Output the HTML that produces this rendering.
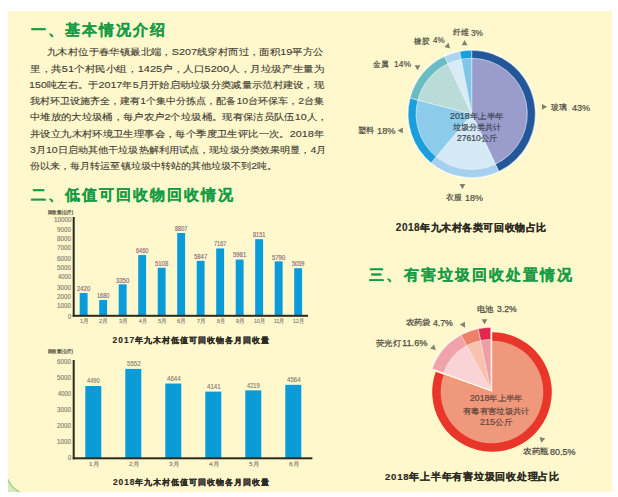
<!DOCTYPE html><html><head><meta charset="utf-8"><style>
html,body{margin:0;padding:0;background:#fff;width:618px;height:497px;overflow:hidden}
#bg{position:absolute;left:8px;top:11px;width:604px;height:481px;background:#fff8cd}
svg{position:absolute;left:0;top:0}
.t{position:absolute;white-space:nowrap;font-family:'Liberation Sans', sans-serif;line-height:1;transform-origin:0 50%}
</style></head><body>
<div id="bg"></div>
<svg width="618" height="497" viewBox="0 0 618 497"><path d="M8,479 Q11.5,488 20,492 L8,492 Z" fill="#d6ebbd"/><path d="M8,479.5 Q11.5,488 19.5,492" fill="none" stroke="#a3cf8c" stroke-width="1.4"/><rect x="78.90" y="292.25" width="9.50" height="23.55" fill="#f2fae4"/><rect x="79.70" y="293.05" width="7.90" height="22.75" fill="#0b9bd6"/><rect x="98.40" y="299.21" width="9.50" height="16.59" fill="#f2fae4"/><rect x="99.20" y="300.01" width="7.90" height="15.79" fill="#0b9bd6"/><rect x="117.90" y="283.51" width="9.50" height="32.29" fill="#f2fae4"/><rect x="118.70" y="284.31" width="7.90" height="31.49" fill="#0b9bd6"/><rect x="137.40" y="254.28" width="9.50" height="61.52" fill="#f2fae4"/><rect x="138.20" y="255.08" width="7.90" height="60.72" fill="#0b9bd6"/><rect x="156.90" y="266.98" width="9.50" height="48.82" fill="#f2fae4"/><rect x="157.70" y="267.78" width="7.90" height="48.02" fill="#0b9bd6"/><rect x="176.40" y="232.21" width="9.50" height="83.59" fill="#f2fae4"/><rect x="177.20" y="233.01" width="7.90" height="82.79" fill="#0b9bd6"/><rect x="195.90" y="260.04" width="9.50" height="55.76" fill="#f2fae4"/><rect x="196.70" y="260.84" width="7.90" height="54.96" fill="#0b9bd6"/><rect x="215.40" y="247.63" width="9.50" height="68.17" fill="#f2fae4"/><rect x="216.20" y="248.43" width="7.90" height="67.37" fill="#0b9bd6"/><rect x="234.90" y="258.78" width="9.50" height="57.02" fill="#f2fae4"/><rect x="235.70" y="259.58" width="7.90" height="56.22" fill="#0b9bd6"/><rect x="254.40" y="238.38" width="9.50" height="77.42" fill="#f2fae4"/><rect x="255.20" y="239.18" width="7.90" height="76.62" fill="#0b9bd6"/><rect x="273.90" y="260.57" width="9.50" height="55.23" fill="#f2fae4"/><rect x="274.70" y="261.37" width="7.90" height="54.43" fill="#0b9bd6"/><rect x="293.40" y="267.45" width="9.50" height="48.35" fill="#f2fae4"/><rect x="294.20" y="268.25" width="7.90" height="47.55" fill="#0b9bd6"/><rect x="72.70" y="217.00" width="2.00" height="99.80" fill="#2e2a1e"/><rect x="72.70" y="314.80" width="235.30" height="2.00" fill="#2e2a1e"/><rect x="84.50" y="385.21" width="17.60" height="73.09" fill="#f2fae4"/><rect x="85.30" y="386.01" width="16.00" height="72.29" fill="#0b9bd6"/><rect x="124.50" y="368.11" width="17.60" height="90.19" fill="#f2fae4"/><rect x="125.30" y="368.91" width="16.00" height="89.39" fill="#0b9bd6"/><rect x="164.50" y="382.73" width="17.60" height="75.57" fill="#f2fae4"/><rect x="165.30" y="383.53" width="16.00" height="74.77" fill="#0b9bd6"/><rect x="204.50" y="390.83" width="17.60" height="67.47" fill="#f2fae4"/><rect x="205.30" y="391.63" width="16.00" height="66.67" fill="#0b9bd6"/><rect x="244.50" y="389.57" width="17.60" height="68.73" fill="#f2fae4"/><rect x="245.30" y="390.37" width="16.00" height="67.93" fill="#0b9bd6"/><rect x="284.50" y="384.02" width="17.60" height="74.28" fill="#f2fae4"/><rect x="285.30" y="384.82" width="16.00" height="73.48" fill="#0b9bd6"/><rect x="72.70" y="360.00" width="2.00" height="99.30" fill="#2e2a1e"/><rect x="72.70" y="457.30" width="239.70" height="2.00" fill="#2e2a1e"/><circle cx="471.7" cy="113.9" r="64.8" fill="#fefef4"/><path d="M471.70,113.90 L471.70,50.30 A63.6,63.6 0 0 1 498.78,171.45 Z" fill="#24579a" stroke="#e8f3f8" stroke-width="0.5" stroke-linejoin="miter"/><path d="M471.70,113.90 L498.78,171.45 A63.6,63.6 0 0 1 431.16,162.90 Z" fill="#a5d0ee" stroke="#e8f3f8" stroke-width="0.5" stroke-linejoin="miter"/><path d="M471.70,113.90 L431.16,162.90 A63.6,63.6 0 0 1 410.10,98.08 Z" fill="#1b9fdc" stroke="#e8f3f8" stroke-width="0.5" stroke-linejoin="miter"/><path d="M471.70,113.90 L410.10,98.08 A63.6,63.6 0 0 1 444.62,56.35 Z" fill="#69bcc1" stroke="#e8f3f8" stroke-width="0.5" stroke-linejoin="miter"/><path d="M471.70,113.90 L444.62,56.35 A63.6,63.6 0 0 1 459.78,51.43 Z" fill="#a9d5f0" stroke="#e8f3f8" stroke-width="0.5" stroke-linejoin="miter"/><path d="M471.70,113.90 L459.78,51.43 A63.6,63.6 0 0 1 471.70,50.30 Z" fill="#1a9edb" stroke="#e8f3f8" stroke-width="0.5" stroke-linejoin="miter"/><path d="M471.70,113.90 L471.70,58.30 A55.6,55.6 0 0 1 495.37,164.21 Z" fill="#9a9dcc" stroke="#e8f3f8" stroke-width="0.6" stroke-linejoin="miter"/><path d="M471.70,113.90 L495.37,164.21 A55.6,55.6 0 0 1 436.26,156.74 Z" fill="#d5e9f6" stroke="#e8f3f8" stroke-width="0.6" stroke-linejoin="miter"/><path d="M471.70,113.90 L436.26,156.74 A55.6,55.6 0 0 1 417.85,100.07 Z" fill="#8dcbea" stroke="#e8f3f8" stroke-width="0.6" stroke-linejoin="miter"/><path d="M471.70,113.90 L417.85,100.07 A55.6,55.6 0 0 1 448.03,63.59 Z" fill="#badcd8" stroke="#e8f3f8" stroke-width="0.6" stroke-linejoin="miter"/><path d="M471.70,113.90 L448.03,63.59 A55.6,55.6 0 0 1 461.28,59.28 Z" fill="#d7ecf6" stroke="#e8f3f8" stroke-width="0.6" stroke-linejoin="miter"/><path d="M471.70,113.90 L461.28,59.28 A55.6,55.6 0 0 1 471.70,58.30 Z" fill="#80c6e8" stroke="#e8f3f8" stroke-width="0.6" stroke-linejoin="miter"/><path d="M464.60,39.94 L467.50,45.14 L461.70,45.14 Z" fill="#807f72"/><path d="M450.12,48.52 L444.39,46.90 L448.50,42.79 Z" fill="#807f72"/><path d="M417.50,70.36 L414.60,65.16 L420.40,65.16 Z" fill="#807f72"/><path d="M547.16,106.80 L541.96,109.70 L541.96,103.90 Z" fill="#807f72"/><path d="M397.64,130.50 L402.84,127.60 L402.84,133.40 Z" fill="#807f72"/><path d="M462.40,189.16 L459.50,183.96 L465.30,183.96 Z" fill="#807f72"/><path d="M492.00,392.00 L492.00,332.20 A59.8,59.8 0 1 1 435.74,371.74 Z" fill="#e9362a"/><path d="M492.00,392.00 L492.00,340.70 A51.3,51.3 0 1 1 443.73,374.62 Z" fill="#f0987c"/><path d="M490.70,389.70 L431.61,368.43 A62.800000000000004,62.800000000000004 0 0 1 490.70,326.90 Z" fill="#fffbe6" stroke="#fffbe6" stroke-width="3.0" stroke-linejoin="miter"/><path d="M490.70,389.70 L432.18,368.63 A62.2,62.2 0 0 1 461.08,335.01 Z" fill="#f0a3aa" stroke="#fde8e0" stroke-width="0.5" stroke-linejoin="miter"/><path d="M490.70,389.70 L461.08,335.01 A62.2,62.2 0 0 1 478.28,328.75 Z" fill="#ee8067" stroke="#fde8e0" stroke-width="0.5" stroke-linejoin="miter"/><path d="M490.70,389.70 L478.28,328.75 A62.2,62.2 0 0 1 490.70,327.50 Z" fill="#e0284f" stroke="#fde8e0" stroke-width="0.5" stroke-linejoin="miter"/><path d="M490.70,389.70 L443.47,372.70 A50.2,50.2 0 0 1 466.79,345.56 Z" fill="#f9d3d6" stroke="#fde8e0" stroke-width="0.5" stroke-linejoin="miter"/><path d="M490.70,389.70 L466.79,345.56 A50.2,50.2 0 0 1 480.67,340.51 Z" fill="#f7c2ae" stroke="#fde8e0" stroke-width="0.5" stroke-linejoin="miter"/><path d="M490.70,389.70 L480.67,340.51 A50.2,50.2 0 0 1 490.70,339.50 Z" fill="#ee9fa6" stroke="#fde8e0" stroke-width="0.5" stroke-linejoin="miter"/><path d="M484.50,324.36 L481.60,319.16 L487.40,319.16 Z" fill="#807f72"/><path d="M465.03,327.68 L459.92,324.62 L464.94,321.72 Z" fill="#807f72"/><path d="M435.82,350.22 L430.09,348.60 L434.20,344.49 Z" fill="#807f72"/><path d="M539.58,436.98 L545.31,438.60 L541.20,442.71 Z" fill="#807f72"/></svg>

<div class="t" id="t0" style="left:31.19px;top:21.89px;font-size:15px;color:#179c45;font-weight:bold;letter-spacing:1.914px;-webkit-text-stroke:0.2px #179c45">一、基本情况介绍</div>
<div class="t" id="t1" style="left:30.79px;top:187.10px;font-size:15px;color:#179c45;font-weight:bold;letter-spacing:2.064px;-webkit-text-stroke:0.2px #179c45">二、低值可回收物回收情况</div>
<div class="t" id="t2" style="left:369.39px;top:266.50px;font-size:15px;color:#179c45;font-weight:bold;letter-spacing:2.100px;-webkit-text-stroke:0.2px #179c45">三、有害垃圾回收处置情况</div>
<div class="t" id="t3" style="left:47.42px;top:47.09px;font-size:9.4px;color:#3f3d32;font-weight:normal;transform:scaleX(1.1554);-webkit-text-stroke:0.12px #3f3d32">九木村位于春华镇最北端，S207线穿村而过，面积19平方公</div>
<div class="t" id="t4" style="left:30.42px;top:63.70px;font-size:9.4px;color:#3f3d32;font-weight:normal;transform:scaleX(1.1772);-webkit-text-stroke:0.12px #3f3d32">里，共51个村民小组，1425户，人口5200人，月垃圾产生量为</div>
<div class="t" id="t5" style="left:29.27px;top:80.30px;font-size:9.4px;color:#3f3d32;font-weight:normal;transform:scaleX(1.1451);-webkit-text-stroke:0.12px #3f3d32">150吨左右。于2017年5月开始启动垃圾分类减量示范村建设，现</div>
<div class="t" id="t6" style="left:30.41px;top:95.89px;font-size:9.4px;color:#3f3d32;font-weight:normal;transform:scaleX(1.1148);-webkit-text-stroke:0.12px #3f3d32">我村环卫设施齐全，建有1个集中分拣点，配备10台环保车，2台集</div>
<div class="t" id="t7" style="left:30.42px;top:112.49px;font-size:9.4px;color:#3f3d32;font-weight:normal;transform:scaleX(1.1496);-webkit-text-stroke:0.12px #3f3d32">中堆放的大垃圾桶，每户农户2个垃圾桶。现有保洁员队伍10人，</div>
<div class="t" id="t8" style="left:30.42px;top:129.09px;font-size:9.4px;color:#3f3d32;font-weight:normal;transform:scaleX(1.1541);-webkit-text-stroke:0.12px #3f3d32">并设立九木村环境卫生理事会，每个季度卫生评比一次。2018年</div>
<div class="t" id="t9" style="left:30.41px;top:144.70px;font-size:9.4px;color:#3f3d32;font-weight:normal;transform:scaleX(1.1233);-webkit-text-stroke:0.12px #3f3d32">3月10日启动其他干垃圾热解利用试点，现垃圾分类效果明显，4月</div>
<div class="t" id="t10" style="left:30.41px;top:161.30px;font-size:9.4px;color:#3f3d32;font-weight:normal;transform:scaleX(1.1177);-webkit-text-stroke:0.12px #3f3d32">份以来，每月转运至镇垃圾中转站的其他垃圾不到2吨。</div>
<div class="t" id="t11" style="left:68.00px;top:313.69px;font-size:6.8px;color:#858070;font-weight:normal;transform:scaleX(0.8500);-webkit-text-stroke:0.15px #858070">0</div>
<div class="t" id="t12" style="left:57.23px;top:303.37px;font-size:6.8px;color:#858070;font-weight:normal;transform:scaleX(0.9200);-webkit-text-stroke:0.15px #858070">1000</div>
<div class="t" id="t13" style="left:57.23px;top:294.06px;font-size:6.8px;color:#858070;font-weight:normal;transform:scaleX(0.9200);-webkit-text-stroke:0.15px #858070">2000</div>
<div class="t" id="t14" style="left:57.23px;top:284.73px;font-size:6.8px;color:#858070;font-weight:normal;transform:scaleX(0.9200);-webkit-text-stroke:0.15px #858070">3000</div>
<div class="t" id="t15" style="left:58.11px;top:274.41px;font-size:6.8px;color:#858070;font-weight:normal;transform:scaleX(0.8625);-webkit-text-stroke:0.15px #858070">4000</div>
<div class="t" id="t16" style="left:57.23px;top:265.09px;font-size:6.8px;color:#858070;font-weight:normal;transform:scaleX(0.9200);-webkit-text-stroke:0.15px #858070">5000</div>
<div class="t" id="t17" style="left:57.23px;top:255.78px;font-size:6.8px;color:#858070;font-weight:normal;transform:scaleX(0.9200);-webkit-text-stroke:0.15px #858070">6000</div>
<div class="t" id="t18" style="left:57.23px;top:245.45px;font-size:6.8px;color:#858070;font-weight:normal;transform:scaleX(0.9200);-webkit-text-stroke:0.15px #858070">7000</div>
<div class="t" id="t19" style="left:57.23px;top:236.13px;font-size:6.8px;color:#858070;font-weight:normal;transform:scaleX(0.9200);-webkit-text-stroke:0.15px #858070">8000</div>
<div class="t" id="t20" style="left:57.23px;top:226.81px;font-size:6.8px;color:#858070;font-weight:normal;transform:scaleX(0.9200);-webkit-text-stroke:0.15px #858070">9000</div>
<div class="t" id="t21" style="left:53.61px;top:216.50px;font-size:6.8px;color:#858070;font-weight:normal;transform:scaleX(0.9263);-webkit-text-stroke:0.15px #858070">10000</div>
<div class="t" id="t22" style="left:47.62px;top:210.99px;font-size:4.6px;color:#6e6a55;font-weight:normal;transform:scaleX(0.8929);-webkit-text-stroke:0.35px #6e6a55">回收量(公斤)</div>
<div class="t" id="t23" style="left:77.14px;top:286.09px;font-size:6.6px;color:#8a687e;font-weight:normal;transform:scaleX(0.9000);-webkit-text-stroke:0.15px #8a687e">2420</div>
<div class="t" id="t24" style="left:80.09px;top:318.00px;font-size:6.0px;color:#858070;font-weight:normal;transform:scaleX(0.9500);-webkit-text-stroke:0.15px #858070">1月</div>
<div class="t" id="t25" style="left:97.09px;top:293.02px;font-size:6.6px;color:#8a687e;font-weight:normal;transform:scaleX(0.8400);-webkit-text-stroke:0.15px #8a687e">1680</div>
<div class="t" id="t26" style="left:99.12px;top:318.00px;font-size:6.0px;color:#858070;font-weight:normal;transform:scaleX(0.9500);-webkit-text-stroke:0.15px #858070">2月</div>
<div class="t" id="t27" style="left:116.14px;top:277.62px;font-size:6.6px;color:#8a687e;font-weight:normal;transform:scaleX(0.9000);-webkit-text-stroke:0.15px #8a687e">3350</div>
<div class="t" id="t28" style="left:119.09px;top:318.00px;font-size:6.0px;color:#858070;font-weight:normal;transform:scaleX(0.9500);-webkit-text-stroke:0.15px #858070">3月</div>
<div class="t" id="t29" style="left:136.09px;top:248.15px;font-size:6.6px;color:#8a687e;font-weight:normal;transform:scaleX(0.8400);-webkit-text-stroke:0.15px #8a687e">6460</div>
<div class="t" id="t30" style="left:139.01px;top:318.00px;font-size:6.0px;color:#858070;font-weight:normal;transform:scaleX(0.8444);-webkit-text-stroke:0.15px #858070">4月</div>
<div class="t" id="t31" style="left:155.14px;top:260.56px;font-size:6.6px;color:#8a687e;font-weight:normal;transform:scaleX(0.9000);-webkit-text-stroke:0.15px #8a687e">5108</div>
<div class="t" id="t32" style="left:158.09px;top:318.00px;font-size:6.0px;color:#858070;font-weight:normal;transform:scaleX(0.9500);-webkit-text-stroke:0.15px #858070">5月</div>
<div class="t" id="t33" style="left:175.09px;top:226.02px;font-size:6.6px;color:#8a687e;font-weight:normal;transform:scaleX(0.8400);-webkit-text-stroke:0.15px #8a687e">8807</div>
<div class="t" id="t34" style="left:177.12px;top:318.00px;font-size:6.0px;color:#858070;font-weight:normal;transform:scaleX(0.9500);-webkit-text-stroke:0.15px #858070">6月</div>
<div class="t" id="t35" style="left:194.14px;top:253.68px;font-size:6.6px;color:#8a687e;font-weight:normal;transform:scaleX(0.9000);-webkit-text-stroke:0.15px #8a687e">5847</div>
<div class="t" id="t36" style="left:197.09px;top:318.00px;font-size:6.0px;color:#858070;font-weight:normal;transform:scaleX(0.9500);-webkit-text-stroke:0.15px #858070">7月</div>
<div class="t" id="t37" style="left:214.09px;top:240.85px;font-size:6.6px;color:#8a687e;font-weight:normal;transform:scaleX(0.8400);-webkit-text-stroke:0.15px #8a687e">7167</div>
<div class="t" id="t38" style="left:217.01px;top:318.00px;font-size:6.0px;color:#858070;font-weight:normal;transform:scaleX(0.8444);-webkit-text-stroke:0.15px #858070">8月</div>
<div class="t" id="t39" style="left:233.14px;top:252.15px;font-size:6.6px;color:#8a687e;font-weight:normal;transform:scaleX(0.9000);-webkit-text-stroke:0.15px #8a687e">5981</div>
<div class="t" id="t40" style="left:236.09px;top:318.00px;font-size:6.0px;color:#858070;font-weight:normal;transform:scaleX(0.9500);-webkit-text-stroke:0.15px #858070">9月</div>
<div class="t" id="t41" style="left:253.09px;top:232.35px;font-size:6.6px;color:#8a687e;font-weight:normal;transform:scaleX(0.8400);-webkit-text-stroke:0.15px #8a687e">8151</div>
<div class="t" id="t42" style="left:254.15px;top:318.00px;font-size:6.0px;color:#858070;font-weight:normal;transform:scaleX(0.8727);-webkit-text-stroke:0.15px #858070">10月</div>
<div class="t" id="t43" style="left:272.14px;top:254.74px;font-size:6.6px;color:#8a687e;font-weight:normal;transform:scaleX(0.9000);-webkit-text-stroke:0.15px #8a687e">5790</div>
<div class="t" id="t44" style="left:274.09px;top:318.00px;font-size:6.0px;color:#858070;font-weight:normal;transform:scaleX(0.8727);-webkit-text-stroke:0.15px #858070">11月</div>
<div class="t" id="t45" style="left:292.09px;top:261.49px;font-size:6.6px;color:#8a687e;font-weight:normal;transform:scaleX(0.8400);-webkit-text-stroke:0.15px #8a687e">5059</div>
<div class="t" id="t46" style="left:293.15px;top:318.00px;font-size:6.0px;color:#858070;font-weight:normal;transform:scaleX(0.8727);-webkit-text-stroke:0.15px #858070">12月</div>
<div class="t" id="t47" style="left:112.60px;top:336.30px;font-size:8.4px;color:#2b2a22;font-weight:bold;letter-spacing:0.983px;-webkit-text-stroke:0.15px #2b2a22">2017年九木村低值可回收物各月回收量</div>
<div class="t" id="t48" style="left:68.00px;top:455.09px;font-size:6.8px;color:#858070;font-weight:normal;transform:scaleX(0.8500);-webkit-text-stroke:0.15px #858070">0</div>
<div class="t" id="t49" style="left:57.23px;top:439.00px;font-size:6.8px;color:#858070;font-weight:normal;transform:scaleX(0.9200);-webkit-text-stroke:0.15px #858070">1000</div>
<div class="t" id="t50" style="left:57.23px;top:422.90px;font-size:6.8px;color:#858070;font-weight:normal;transform:scaleX(0.9200);-webkit-text-stroke:0.15px #858070">2000</div>
<div class="t" id="t51" style="left:57.23px;top:406.79px;font-size:6.8px;color:#858070;font-weight:normal;transform:scaleX(0.9200);-webkit-text-stroke:0.15px #858070">3000</div>
<div class="t" id="t52" style="left:58.11px;top:390.69px;font-size:6.8px;color:#858070;font-weight:normal;transform:scaleX(0.8625);-webkit-text-stroke:0.15px #858070">4000</div>
<div class="t" id="t53" style="left:57.23px;top:374.59px;font-size:6.8px;color:#858070;font-weight:normal;transform:scaleX(0.9200);-webkit-text-stroke:0.15px #858070">5000</div>
<div class="t" id="t54" style="left:57.23px;top:358.50px;font-size:6.8px;color:#858070;font-weight:normal;transform:scaleX(0.9200);-webkit-text-stroke:0.15px #858070">6000</div>
<div class="t" id="t55" style="left:47.62px;top:349.59px;font-size:4.6px;color:#6e6a55;font-weight:normal;transform:scaleX(0.8821);-webkit-text-stroke:0.35px #6e6a55">回收量(公斤)</div>
<div class="t" id="t56" style="left:86.62px;top:378.21px;font-size:6.6px;color:#858070;font-weight:normal;transform:scaleX(0.8667);-webkit-text-stroke:0.15px #858070">4490</div>
<div class="t" id="t57" style="left:88.78px;top:461.00px;font-size:6.0px;color:#858070;font-weight:normal;transform:scaleX(1.1000);-webkit-text-stroke:0.15px #858070">1月</div>
<div class="t" id="t58" style="left:126.61px;top:361.02px;font-size:6.6px;color:#858070;font-weight:normal;transform:scaleX(0.9286);-webkit-text-stroke:0.15px #858070">5552</div>
<div class="t" id="t59" style="left:128.78px;top:461.00px;font-size:6.0px;color:#858070;font-weight:normal;transform:scaleX(1.1000);-webkit-text-stroke:0.15px #858070">2月</div>
<div class="t" id="t60" style="left:166.61px;top:376.25px;font-size:6.6px;color:#858070;font-weight:normal;transform:scaleX(0.9286);-webkit-text-stroke:0.15px #858070">4644</div>
<div class="t" id="t61" style="left:168.78px;top:461.00px;font-size:6.0px;color:#858070;font-weight:normal;transform:scaleX(1.1000);-webkit-text-stroke:0.15px #858070">3月</div>
<div class="t" id="t62" style="left:206.61px;top:384.46px;font-size:6.6px;color:#858070;font-weight:normal;transform:scaleX(0.9286);-webkit-text-stroke:0.15px #858070">4141</div>
<div class="t" id="t63" style="left:208.78px;top:461.00px;font-size:6.0px;color:#858070;font-weight:normal;transform:scaleX(1.1000);-webkit-text-stroke:0.15px #858070">4月</div>
<div class="t" id="t64" style="left:246.62px;top:382.94px;font-size:6.6px;color:#858070;font-weight:normal;transform:scaleX(0.8667);-webkit-text-stroke:0.15px #858070">4219</div>
<div class="t" id="t65" style="left:248.78px;top:461.00px;font-size:6.0px;color:#858070;font-weight:normal;transform:scaleX(1.1000);-webkit-text-stroke:0.15px #858070">5月</div>
<div class="t" id="t66" style="left:286.61px;top:376.84px;font-size:6.6px;color:#858070;font-weight:normal;transform:scaleX(0.9286);-webkit-text-stroke:0.15px #858070">4564</div>
<div class="t" id="t67" style="left:288.78px;top:461.00px;font-size:6.0px;color:#858070;font-weight:normal;transform:scaleX(1.1000);-webkit-text-stroke:0.15px #858070">6月</div>
<div class="t" id="t68" style="left:113.00px;top:477.89px;font-size:8.4px;color:#2b2a22;font-weight:bold;letter-spacing:0.944px;-webkit-text-stroke:0.15px #2b2a22">2018年九木村低值可回收物各月回收量</div>
<div class="t" id="t69" style="left:452.59px;top:28.99px;font-size:7.6px;color:#4f4d42;font-weight:normal;transform:scaleX(0.9875);-webkit-text-stroke:0.2px #4f4d42">纤维</div>
<div class="t" id="t70" style="left:471.38px;top:28.52px;font-size:8.512px;color:#4f4d42;font-weight:normal;transform:scaleX(0.9692);-webkit-text-stroke:0.2px #4f4d42">3%</div>
<div class="t" id="t71" style="left:413.60px;top:37.80px;font-size:7.6px;color:#4f4d42;font-weight:normal;transform:scaleX(0.9625);-webkit-text-stroke:0.2px #4f4d42">橡胶</div>
<div class="t" id="t72" style="left:432.58px;top:36.33px;font-size:8.512px;color:#4f4d42;font-weight:normal;transform:scaleX(0.9385);-webkit-text-stroke:0.2px #4f4d42">4%</div>
<div class="t" id="t73" style="left:373.00px;top:60.99px;font-size:7.6px;color:#4f4d42;font-weight:normal;transform:scaleX(0.9438);-webkit-text-stroke:0.2px #4f4d42">金属</div>
<div class="t" id="t74" style="left:394.00px;top:59.52px;font-size:8.512px;color:#4f4d42;font-weight:normal;transform:scaleX(0.9941);-webkit-text-stroke:0.2px #4f4d42">14%</div>
<div class="t" id="t75" style="left:550.78px;top:104.19px;font-size:7.6px;color:#4f4d42;font-weight:normal;transform:scaleX(0.9750);-webkit-text-stroke:0.2px #4f4d42">玻璃</div>
<div class="t" id="t76" style="left:571.58px;top:103.73px;font-size:8.512px;color:#4f4d42;font-weight:normal;transform:scaleX(1.0647);-webkit-text-stroke:0.2px #4f4d42">43%</div>
<div class="t" id="t77" style="left:357.60px;top:127.19px;font-size:7.6px;color:#4f4d42;font-weight:normal;-webkit-text-stroke:0.2px #4f4d42">塑料</div>
<div class="t" id="t78" style="left:377.32px;top:126.73px;font-size:8.512px;color:#4f4d42;font-weight:normal;transform:scaleX(1.0875);-webkit-text-stroke:0.2px #4f4d42">18%</div>
<div class="t" id="t79" style="left:445.59px;top:194.19px;font-size:7.6px;color:#4f4d42;font-weight:normal;transform:scaleX(0.9750);-webkit-text-stroke:0.2px #4f4d42">衣服</div>
<div class="t" id="t80" style="left:465.34px;top:193.73px;font-size:8.512px;color:#4f4d42;font-weight:normal;transform:scaleX(1.0625);-webkit-text-stroke:0.2px #4f4d42">18%</div>
<div class="t" id="t81" style="left:449.75px;top:113.29px;font-size:8.2px;color:#3c4654;font-weight:normal;transform:scaleX(1.0720);-webkit-text-stroke:0.2px #3c4654">2018年上半年</div>
<div class="t" id="t82" style="left:452.60px;top:124.29px;font-size:8.2px;color:#3c4654;font-weight:normal;transform:scaleX(1.0104);-webkit-text-stroke:0.2px #3c4654">垃圾分类共计</div>
<div class="t" id="t83" style="left:456.98px;top:135.49px;font-size:8.2px;color:#3c4654;font-weight:normal;transform:scaleX(1.0395);-webkit-text-stroke:0.2px #3c4654">27610公斤</div>
<div class="t" id="t84" style="left:395.79px;top:223.10px;font-size:10.0px;color:#2b2a22;font-weight:bold;letter-spacing:0.540px;-webkit-text-stroke:0.15px #2b2a22">2018年九木村各类可回收物占比</div>
<div class="t" id="t85" style="left:477.38px;top:305.60px;font-size:8.0px;color:#504e44;font-weight:normal;transform:scaleX(1.0375);-webkit-text-stroke:0.25px #504e44">电池</div>
<div class="t" id="t86" style="left:496.59px;top:305.11px;font-size:8.96px;color:#504e44;font-weight:normal;transform:scaleX(0.9619);-webkit-text-stroke:0.25px #504e44">3.2%</div>
<div class="t" id="t87" style="left:406.20px;top:319.39px;font-size:8.0px;color:#504e44;font-weight:normal;transform:scaleX(1.0292);-webkit-text-stroke:0.25px #504e44">农药袋</div>
<div class="t" id="t88" style="left:432.59px;top:318.92px;font-size:8.96px;color:#504e44;font-weight:normal;transform:scaleX(0.9714);-webkit-text-stroke:0.25px #504e44">4.7%</div>
<div class="t" id="t89" style="left:375.79px;top:340.19px;font-size:8.0px;color:#504e44;font-weight:normal;transform:scaleX(1.0333);-webkit-text-stroke:0.25px #504e44">荧光灯</div>
<div class="t" id="t90" style="left:402.36px;top:338.71px;font-size:8.96px;color:#504e44;font-weight:normal;transform:scaleX(1.0292);-webkit-text-stroke:0.25px #504e44">11.6%</div>
<div class="t" id="t91" style="left:522.97px;top:448.00px;font-size:8.0px;color:#504e44;font-weight:normal;transform:scaleX(1.0625);-webkit-text-stroke:0.25px #504e44">农药瓶</div>
<div class="t" id="t92" style="left:550.19px;top:447.52px;font-size:8.96px;color:#504e44;font-weight:normal;transform:scaleX(1.0038);-webkit-text-stroke:0.25px #504e44">80.5%</div>
<div class="t" id="t93" style="left:469.76px;top:394.44px;font-size:8.3px;color:#63463a;font-weight:normal;transform:scaleX(1.0480);-webkit-text-stroke:0.2px #63463a">2018年上半年</div>
<div class="t" id="t94" style="left:463.20px;top:406.84px;font-size:8.3px;color:#63463a;font-weight:normal;transform:scaleX(1.0422);-webkit-text-stroke:0.2px #63463a">有毒有害垃圾共计</div>
<div class="t" id="t95" style="left:480.16px;top:418.04px;font-size:8.3px;color:#63463a;font-weight:normal;transform:scaleX(1.0793);-webkit-text-stroke:0.2px #63463a">215公斤</div>
<div class="t" id="t96" style="left:385.00px;top:471.69px;font-size:9.6px;color:#2b2a22;font-weight:bold;letter-spacing:0.747px;-webkit-text-stroke:0.15px #2b2a22">2018年上半年有害垃圾回收处理占比</div>
</body></html>
